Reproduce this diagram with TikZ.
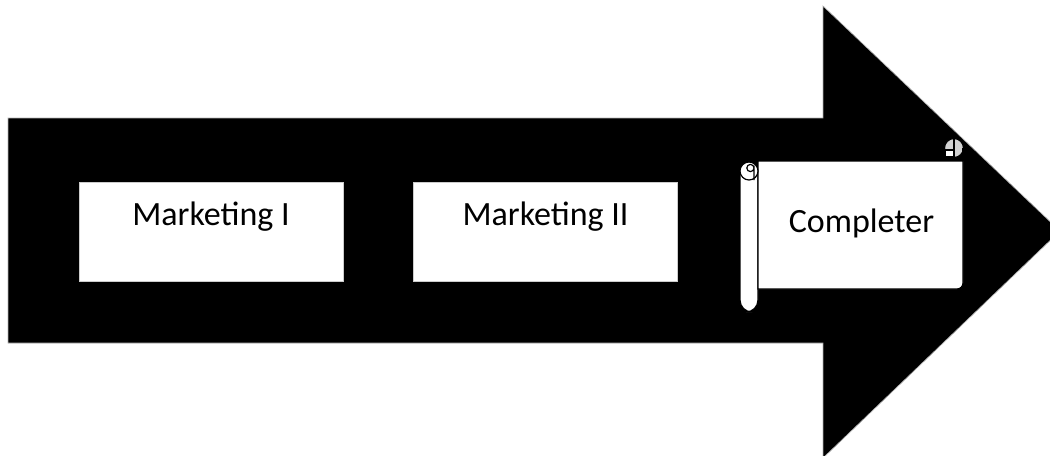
\documentclass[tikz,border=0pt]{standalone}
\usepackage{fontspec}
\setmainfont{Carlito}
\begin{document}
\begin{tikzpicture}[x=0.75pt,y=-0.75pt,
  card/.style={fill=white,draw=gray!40,line width=0.4pt,inner sep=0pt,
    minimum width=198pt,minimum height=74.25pt},
  lbl/.style={font=\fontsize{25.5}{30}\selectfont,inner sep=0pt,anchor=base},
  rollline/.style={draw=black,line width=0.9pt}]
\useasboundingbox (0,0) rectangle (1050,455);
\clip (0,0) rectangle (1050,455);
% block arrow
\fill[black,draw=gray!60,line width=0.5pt]
  (8,118) -- (823,118) -- (823,6) -- (1060,231) -- (823,458)
  -- (823,343) -- (8,343) -- cycle;
% the two plain stages
\node[card] (m1) at (211,231.5) {};
\node[card] (m2) at (545.5,231.5) {};
\node[lbl] (t1) at (211,225) {Marketing I};
\node[lbl] (t2) at (545.5,225) {Marketing II};
% scroll: left roll
\filldraw[fill=white,rollline,rounded corners=9] (740,162) rectangle (758,312);
% scroll: sheet
\filldraw[fill=white,rollline]
  (758,161) -- (963,161) -- (963,283) arc[start angle=0,end angle=90,radius=6]
  -- (758,289) -- cycle;
% scroll: curl at the top of the left roll
\draw[rollline,fill=white] (749,171) circle[radius=9];
\draw[rollline] (754,180) -- (754,168) arc[start angle=0,end angle=360,radius=3.6];
% scroll: curl at the top right
\filldraw[fill=gray!35,rollline] (954,148) circle[radius=9.5];
\filldraw[fill=white,rollline] (945,150) -- (954,150) -- (954,157) -- (945,157) -- cycle;
\draw[rollline] (954,139) -- (954,157);
\draw[rollline] (963,148) -- (963,161);
\node[lbl] (t3) at (861.5,232) {Completer};
\end{tikzpicture}
\end{document}
